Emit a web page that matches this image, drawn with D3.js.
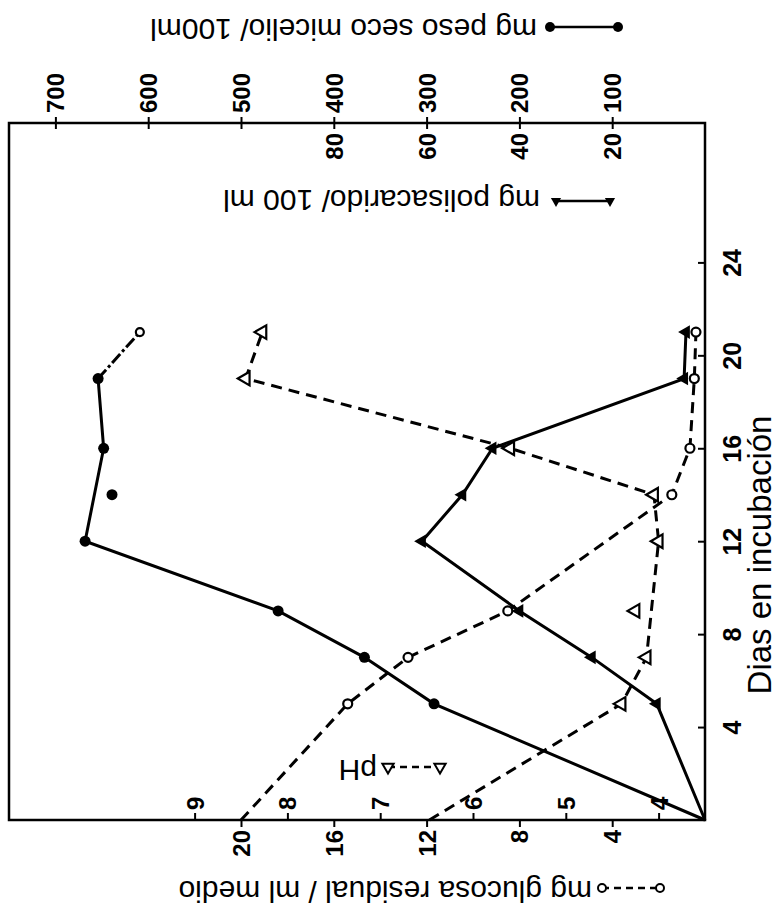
<!DOCTYPE html>
<html>
<head>
<meta charset="utf-8">
<script src="https://cdn.jsdelivr.net/npm/d3@7"></script>
<style>
  body { margin: 0; background: #fff; }
</style>
</head>
<body>
<div id="chart"></div>
<script>
// values (figure is printed rotated: days run upward)
const micelioDays = [0, 5, 7, 9, 12, 16, 19, 21];
const micelioMg = [0, 292, 367, 460, 668, 648, 654, 609];
const micelioLooseDay = [14];
const micelioLooseMg = [639];

const polisDays = [0, 5, 7, 9, 12, 14, 16, 19, 21];
const polisMg = [0, 10.4, 24.4, 40, 61, 52.3, 45.8, 4.5, 4.1];

const glucDays = [0, 5, 7, 9, 14, 16, 19, 21];
const glucMg = [20, 15.4, 12.8, 8.5, 1.43, 0.65, 0.46, 0.39];

const phDays = [0, 5, 7, 12, 14, 16, 19, 21];
const phVals = [6.47, 4.4, 4.13, 4.0, 4.05, 5.6, 8.45, 8.27];
const phLooseDay = [9];
const phLooseVal = [4.25];

const dayTicks = [4, 8, 12, 16, 20, 24];
const micelioTicks = [100, 200, 300, 400, 500, 600, 700];
const polisTicks = [20, 40, 60, 80];
const glucTicks = [4, 8, 12, 16, 20];
const phTicks = [4, 5, 6, 7, 8, 9];

const W = 777, H = 914;
const box = { left: 9, right: 705, top: 123, bottom: 820 };
const font = "'Liberation Sans', Arial, sans-serif";

const svg = d3.select("#chart").append("svg")
  .attr("width", W)
  .attr("height", H)
  .style("font-family", font);

// days go up the page, the value axes run right-to-left
const y = d3.scaleLinear().domain([0, 30]).range([box.bottom, box.top]);
const xG = d3.scaleLinear().domain([0, 30]).range([box.right, box.left]);
const xM = d3.scaleLinear().domain([0, 750]).range([box.right, box.left]);
const xP = d3.scaleLinear().domain([0, 150]).range([box.right, box.left]);
const xPH = d3.scaleLinear().domain([3.5, 11]).range([box.right, box.left]);

svg.append("rect")
  .attr("x", box.left).attr("y", box.top)
  .attr("width", box.right - box.left).attr("height", box.bottom - box.top)
  .attr("fill", "none").attr("stroke", "#000").attr("stroke-width", 2.5);

function styleAxis(g) {
  g.select(".domain").remove();
  g.selectAll(".tick line").attr("stroke", "#000").attr("stroke-width", 2);
  g.selectAll(".tick text")
    .attr("fill", "#000")
    .style("font-size", "24px")
    .style("font-weight", "bold")
    .style("font-family", font);
}

// glucose axis (below the bottom edge)
svg.append("g")
  .attr("transform", `translate(0,${box.bottom})`)
  .call(d3.axisBottom(xG).tickValues(glucTicks).tickSize(7))
  .call(styleAxis)
  .selectAll(".tick text")
  .attr("x", 0).attr("y", 0).attr("dy", "0.35em")
  .attr("text-anchor", "end")
  .attr("transform", "translate(0,10) rotate(-90)");

// pH axis (inside, above the bottom edge)
svg.append("g")
  .attr("transform", `translate(0,${box.bottom})`)
  .call(d3.axisTop(xPH).tickValues(phTicks).tickSize(7))
  .call(styleAxis)
  .selectAll(".tick text")
  .attr("x", 0).attr("y", 0).attr("dy", "0.35em")
  .attr("text-anchor", "start")
  .attr("transform", "translate(0,-10) rotate(-90)");

// micelio axis (above the top edge)
const mAxis = svg.append("g")
  .attr("transform", `translate(0,${box.top})`)
  .call(d3.axisTop(xM).tickValues(micelioTicks).tickSize(6))
  .call(styleAxis);
mAxis.selectAll(".tick line").attr("y1", 6);
mAxis.selectAll(".tick text")
  .attr("x", 0).attr("y", 0).attr("dy", "0.35em")
  .attr("text-anchor", "start")
  .attr("transform", "translate(0,-10) rotate(-90)");

// polisacarido axis (inside, below the top edge)
svg.append("g")
  .attr("transform", `translate(0,${box.top})`)
  .call(d3.axisBottom(xP).tickValues(polisTicks).tickSize(0))
  .call(styleAxis)
  .selectAll(".tick text")
  .attr("x", 0).attr("y", 0).attr("dy", "0.35em")
  .attr("text-anchor", "end")
  .attr("transform", "translate(0,10) rotate(-90)");

// day axis (right edge)
svg.append("g")
  .attr("transform", `translate(${box.right},0)`)
  .call(d3.axisRight(y).tickValues(dayTicks).tickSize(-7))
  .call(styleAxis)
  .selectAll(".tick text")
  .attr("x", 0).attr("y", 0).attr("dy", 0)
  .attr("text-anchor", "middle")
  .style("font-size", "25px")
  .attr("transform", "translate(36,0) rotate(-90)");

svg.append("text")
  .attr("transform", `translate(771,555) rotate(-90)`)
  .attr("text-anchor", "middle")
  .style("font-size", "33px")
  .text("Dias en incubación");

// series
const zip = (a, b) => a.map((d, i) => [d, b[i]]);
const micelio = zip(micelioDays, micelioMg);
const polis = zip(polisDays, polisMg);
const gluc = zip(glucDays, glucMg);
const ph = zip(phDays, phVals);

const lineOf = xs => d3.line().x(d => xs(d[1])).y(d => y(d[0]));

const plot = svg.append("g");

plot.append("path")
  .datum(micelio.slice(0, 7))
  .attr("d", lineOf(xM))
  .attr("fill", "none").attr("stroke", "#000").attr("stroke-width", 3);
plot.append("path")
  .datum(micelio.slice(6))
  .attr("d", lineOf(xM))
  .attr("fill", "none").attr("stroke", "#000").attr("stroke-width", 3)
  .attr("stroke-dasharray", "12,3,3,3");

plot.append("path")
  .datum(polis)
  .attr("d", lineOf(xP))
  .attr("fill", "none").attr("stroke", "#000").attr("stroke-width", 3);

plot.append("path")
  .datum(gluc)
  .attr("d", lineOf(xG))
  .attr("fill", "none").attr("stroke", "#000").attr("stroke-width", 3)
  .attr("stroke-dasharray", "11,7");

plot.append("path")
  .datum(ph)
  .attr("d", lineOf(xPH))
  .attr("fill", "none").attr("stroke", "#000").attr("stroke-width", 3)
  .attr("stroke-dasharray", "11,7");

const tri = d3.symbol().type(d3.symbolTriangle).size(80);

// markers (no marker at day 0)
plot.selectAll(".gl").data(gluc.filter(d => d[0] > 0)).enter().append("circle")
  .attr("cx", d => xG(d[1])).attr("cy", d => y(d[0])).attr("r", 4.5)
  .attr("fill", "#fff").attr("stroke", "#000").attr("stroke-width", 2.2);

plot.selectAll(".ph").data(ph.filter(d => d[0] > 0).concat(zip(phLooseDay, phLooseVal)))
  .enter().append("path")
  .attr("d", tri)
  .attr("transform", d => `translate(${xPH(d[1])},${y(d[0])}) rotate(-90)`)
  .attr("fill", "#fff").attr("stroke", "#000").attr("stroke-width", 2.2);

plot.selectAll(".po").data(polis.filter(d => d[0] > 0)).enter().append("path")
  .attr("d", tri)
  .attr("transform", d => `translate(${xP(d[1])},${y(d[0])}) rotate(-90)`)
  .attr("fill", "#000");

plot.selectAll(".mi").data(micelio.filter(d => d[0] > 0 && d[0] < 21).concat(zip(micelioLooseDay, micelioLooseMg)))
  .enter().append("circle")
  .attr("cx", d => xM(d[1])).attr("cy", d => y(d[0])).attr("r", 5.5)
  .attr("fill", "#000");
plot.selectAll(".mi2").data(micelio.filter(d => d[0] === 21)).enter().append("circle")
  .attr("cx", d => xM(d[1])).attr("cy", d => y(d[0])).attr("r", 4)
  .attr("fill", "#fff").attr("stroke", "#000").attr("stroke-width", 2.2);

// upside-down legend titles
function title(x, yy, txt) {
  svg.append("text")
    .attr("transform", `translate(${x},${yy}) rotate(180)`)
    .attr("text-anchor", "start")
    .style("font-size", "30px")
    .text(txt);
}
title(537, 19, "mg peso seco micelio/ 100ml");
title(540, 190, "mg polisacarido/ 100 ml");
title(592, 881, "mg glucosa residual / ml medio");
title(377, 760, "pH");

// legend keys
const key = svg.append("g");
key.append("line").attr("x1", 550).attr("x2", 618).attr("y1", 27).attr("y2", 27)
  .attr("stroke", "#000").attr("stroke-width", 2.5);
key.selectAll(".k1").data([550, 618]).enter().append("circle")
  .attr("cx", d => d).attr("cy", 27).attr("r", 5).attr("fill", "#000");

key.append("line").attr("x1", 556).attr("x2", 610).attr("y1", 201).attr("y2", 201)
  .attr("stroke", "#000").attr("stroke-width", 2.5);
key.selectAll(".k2").data([556, 610]).enter().append("path")
  .attr("d", d3.symbol().type(d3.symbolTriangle).size(45))
  .attr("transform", d => `translate(${d},201) rotate(180)`)
  .attr("fill", "#000");

key.append("line").attr("x1", 602).attr("x2", 660).attr("y1", 888).attr("y2", 888)
  .attr("stroke", "#000").attr("stroke-width", 2.5).attr("stroke-dasharray", "7,5");
key.selectAll(".k3").data([602, 660]).enter().append("circle")
  .attr("cx", d => d).attr("cy", 888).attr("r", 4)
  .attr("fill", "#fff").attr("stroke", "#000").attr("stroke-width", 2);

key.append("line").attr("x1", 388).attr("x2", 440).attr("y1", 767).attr("y2", 767)
  .attr("stroke", "#000").attr("stroke-width", 2.5).attr("stroke-dasharray", "7,5");
key.selectAll(".k4").data([388, 440]).enter().append("path")
  .attr("d", d3.symbol().type(d3.symbolTriangle).size(55))
  .attr("transform", d => `translate(${d},767) rotate(180)`)
  .attr("fill", "#fff").attr("stroke", "#000").attr("stroke-width", 2);
</script>
</body>
</html>
